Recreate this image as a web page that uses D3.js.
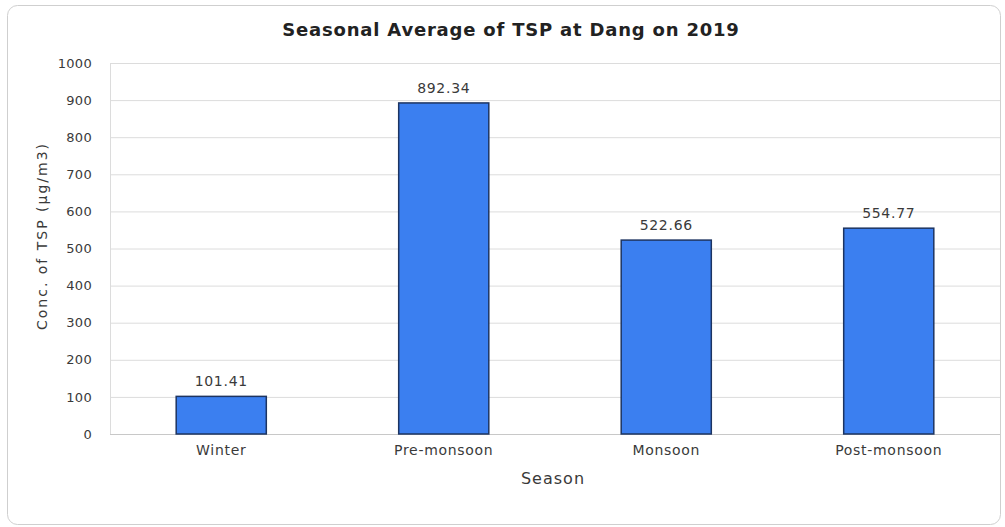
<!DOCTYPE html>
<html><head><meta charset="utf-8">
<script src="https://cdn.jsdelivr.net/npm/d3@7"></script>
<style>body{margin:0;background:#fff;}svg{display:block;}</style>
</head><body>
<svg id="c" width="1005" height="527"></svg>
<script>
const categories = ["Winter", "Pre-monsoon", "Monsoon", "Post-monsoon"];
const values = [101.41, 892.34, 522.66, 554.77];
const valueLabels = ["101.41", "892.34", "522.66", "554.77"];
const yTicks = [0, 100, 200, 300, 400, 500, 600, 700, 800, 900, 1000];
const titleText = "Seasonal Average of TSP at Dang on 2019";
const xTitle = "Season";
const yTitle = "Conc. of TSP (µg/m3)";

const svg = d3.select("#c");
const font = "'DejaVu Sans', Verdana, sans-serif";
svg.append("rect").attr("x", 7.5).attr("y", 5.5).attr("width", 993).attr("height", 519)
  .attr("rx", 10).attr("fill", "#fff").attr("stroke", "#cfcfcf").attr("stroke-width", 1);

const L = 110, R = 1000, T = 63, B = 434;
const x = d3.scaleBand().domain(categories).range([L, R]).padding(0);
const y = d3.scaleLinear().domain([0, 1000]).range([B, T]);

// gridlines
svg.append("g").selectAll("line").data(yTicks).join("line")
  .attr("x1", L).attr("x2", R).attr("y1", d => y(d) + 0.5).attr("y2", d => y(d) + 0.5)
  .attr("stroke", "#dcdcdc").attr("stroke-width", 1);
svg.append("line").attr("x1", L + 0.5).attr("x2", L + 0.5).attr("y1", T).attr("y2", B)
  .attr("stroke", "#dcdcdc");
svg.append("line").attr("x1", L).attr("x2", R).attr("y1", B + 0.5).attr("y2", B + 0.5)
  .attr("stroke", "#c8c8c8");

// y axis labels
const yAxis = d3.axisLeft(y).tickValues(yTicks).tickFormat(d3.format("d")).tickSize(0).tickPadding(18);
const ga = svg.append("g").attr("transform", `translate(${L},0)`).call(yAxis);
ga.select(".domain").remove();
ga.selectAll("text").attr("font-family", font).attr("font-size", 13).attr("fill", "#3a3a3a")
  .attr("letter-spacing", 0.3);

// x axis labels
const xAxis = d3.axisBottom(x).tickSize(0).tickPadding(11);
const gx = svg.append("g").attr("transform", `translate(0,${B})`).call(xAxis);
gx.select(".domain").remove();
gx.selectAll("text").attr("font-family", font).attr("font-size", 14).attr("fill", "#3a3a3a")
  .attr("letter-spacing", 0.7);

// bars
const bw = x.bandwidth() * 0.405;
svg.append("g").selectAll("rect").data(values).join("rect")
  .attr("x", (d, i) => x(categories[i]) + x.bandwidth() / 2 - bw / 2)
  .attr("y", d => y(d))
  .attr("width", bw)
  .attr("height", d => B - y(d))
  .attr("fill", "#3b7ff0").attr("stroke", "#1d3461").attr("stroke-width", 1.5);

// value labels
svg.append("g").selectAll("text").data(values).join("text")
  .attr("x", (d, i) => x(categories[i]) + x.bandwidth() / 2)
  .attr("y", d => y(d) - 10)
  .attr("text-anchor", "middle").attr("font-family", font).attr("font-size", 14).attr("fill", "#3a3a3a")
  .attr("letter-spacing", 0.7)
  .text((d, i) => valueLabels[i]);

// title
svg.append("text").attr("x", 511).attr("y", 36).attr("text-anchor", "middle")
  .attr("font-family", font).attr("font-size", 18).attr("font-weight", "bold").attr("fill", "#222")
  .attr("letter-spacing", 0.8)
  .text(titleText);

svg.append("text").attr("x", 553).attr("y", 484).attr("text-anchor", "middle")
  .attr("font-family", font).attr("font-size", 16).attr("fill", "#3a3a3a")
  .attr("letter-spacing", 1.0).text(xTitle);

svg.append("text").attr("transform", `translate(47,236) rotate(-90)`)
  .attr("text-anchor", "middle").attr("font-family", font).attr("font-size", 14).attr("fill", "#3a3a3a")
  .attr("letter-spacing", 2.0)
  .text(yTitle);
</script>
</body></html>
